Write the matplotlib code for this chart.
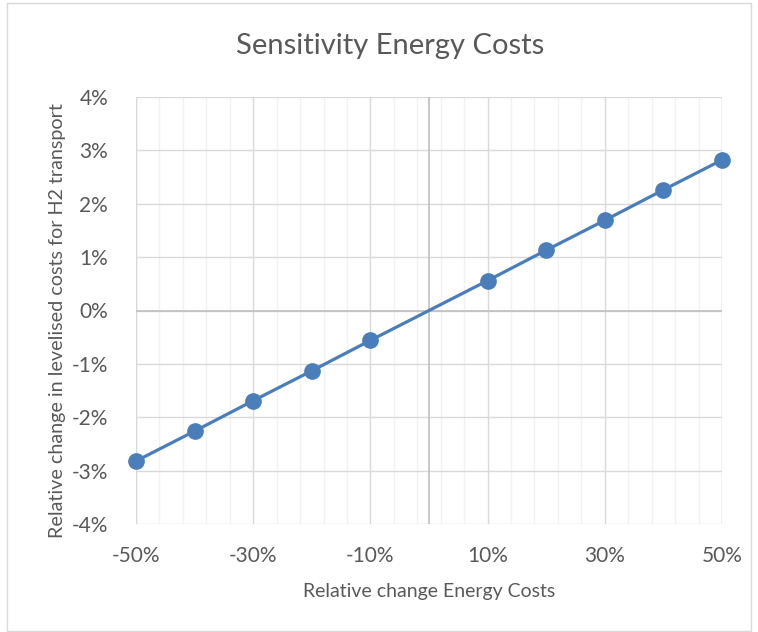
import matplotlib.pyplot as plt
from matplotlib.patches import Rectangle
from matplotlib.ticker import FuncFormatter

# relative change in energy costs (%) and resulting change in levelised cost (%)
energy_change = [-50, -40, -30, -20, -10, 10, 20, 30, 40, 50]
cost_change = [-2.82, -2.26, -1.69, -1.13, -0.56, 0.56, 1.13, 1.69, 2.26, 2.82]
x_ticks = [-50, -30, -10, 10, 30, 50]
y_ticks = [-4, -3, -2, -1, 0, 1, 2, 3, 4]

plt.rcParams['font.family'] = ['Lato', 'DejaVu Sans']
txt = '#595959'

fig = plt.figure(figsize=(7.58, 6.32), dpi=100)
fig.patches.append(Rectangle((7 / 758, 0.002), 744 / 758, 1 - 3 / 632 - 0.002,
                             transform=fig.transFigure, fill=False,
                             edgecolor='#d9d9d9', linewidth=1))

ax = fig.add_axes([136 / 758, 1 - 524 / 632, 586 / 758, 427 / 632])
ax.set_xlim(-50, 50)
ax.set_ylim(-4, 4)

# gridlines, Excel style (minor unit = major / 5)
ax.set_xticks(x_ticks)
ax.set_xticks(range(-50, 51, 4), minor=True)
ax.set_yticks(y_ticks)
ax.grid(which='minor', axis='x', color='#f2f2f2', linewidth=1)
ax.grid(which='major', axis='x', color='#d9d9d9', linewidth=1)
ax.grid(which='major', axis='y', color='#d9d9d9', linewidth=1)
ax.axhline(0, color='#bfbfbf', linewidth=1.2, zorder=1)
ax.axvline(0, color='#bfbfbf', linewidth=1.2, zorder=1)
ax.set_axisbelow(True)
for s in ax.spines.values():
    s.set_visible(False)
ax.axvline(-50, color='#d9d9d9', linewidth=1, zorder=0)
ax.axvline(50, color='#d9d9d9', linewidth=1, zorder=0)

ax.plot(energy_change, cost_change, color='#4a7ebb', linewidth=2.3,
        marker='o', markersize=11, zorder=3, clip_on=False)

ax.xaxis.set_major_formatter(FuncFormatter(lambda v, p: f'{v:.0f}%'))
ax.yaxis.set_major_formatter(FuncFormatter(lambda v, p: f'{v:.0f}%'))
ax.tick_params(which='both', length=0, colors=txt, labelsize=15)
ax.tick_params(axis='y', pad=20)
ax.tick_params(axis='x', pad=16)

# title is centred on the whole chart area, not the plot area
fig.text(390 / 758, 1 - 46 / 632, 'Sensitivity Energy Costs', color=txt,
         fontsize=21, ha='center', va='center')
ax.set_xlabel('Relative change Energy Costs', color=txt, fontsize=14, labelpad=12)
fig.text(57 / 758, 1 - 321 / 632, 'Relative change in levelised costs for H2 transport',
         color=txt, fontsize=14.2, rotation=90, ha='center', va='center')

fig.savefig('out.png', dpi=100)
